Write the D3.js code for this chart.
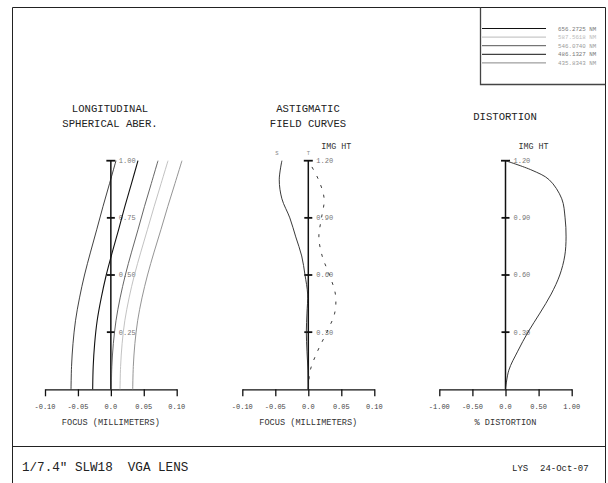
<!DOCTYPE html>
<html><head><meta charset="utf-8">
<script src="https://cdn.jsdelivr.net/npm/d3@7"></script>
<style>body{margin:0;background:#fff}svg{display:block}text{font-family:"Liberation Mono",monospace;white-space:pre}</style>
</head><body>
<svg id="c" width="608" height="483"></svg>
<script>
// ---------- data ----------
const wavelengths = ["656.2725 NM","587.5618 NM","546.0740 NM","486.1327 NM","435.8343 NM"];
const waveColors  = ["#111","#bbb","#555","#111","#888"];

// longitudinal spherical aberration: relative pupil height vs focus (mm)
const lsaHeights = [0,0.1,0.2,0.3,0.4,0.5,0.6,0.7,0.8,0.9,1.0];
const lsa656 = [-0.0605,-0.0597,-0.0575,-0.0537,-0.0476,-0.0400,-0.0309,-0.0213,-0.0119,-0.0020,0.0078];
const lsa587 = [0.0139,0.0148,0.0171,0.0212,0.0277,0.0358,0.0455,0.0557,0.0658,0.0763,0.0868];
const lsa546 = [0.0007,0.0015,0.0038,0.0078,0.0141,0.0220,0.0314,0.0414,0.0511,0.0614,0.0716];
const lsa486 = [-0.0276,-0.0268,-0.0246,-0.0208,-0.0146,-0.0070,0.0022,0.0119,0.0213,0.0313,0.0412];
const lsa435 = [0.0332,0.0341,0.0365,0.0407,0.0473,0.0557,0.0656,0.0762,0.0865,0.0973,0.1080];

// astigmatic field curves: image height vs focus (mm)
const fieldHeights = [0,0.1,0.2,0.3,0.4,0.5,0.6,0.7,0.8,0.9,1.0,1.1,1.2];
const sagittal   = [0,-0.0005,-0.002,-0.003,-0.002,-0.001,-0.005,-0.010,-0.019,-0.028,-0.040,-0.044,-0.040];
const tangential = [0,0.003,0.014,0.028,0.040,0.041,0.032,0.021,0.016,0.020,0.024,0.0155,0];

// distortion: image height vs % distortion
const distHeights = [0,0.1,0.2,0.3,0.4,0.5,0.6,0.7,0.8,0.9,1.0,1.1,1.15,1.2];
const distortion  = [0,0.05,0.185,0.34,0.52,0.69,0.82,0.895,0.915,0.90,0.85,0.66,0.40,0];

const focusTicks = [-0.10,-0.05,0,0.05,0.10];
const focusTickLabels = ["-0.10","-0.05","0.0","0.05","0.10"];
const distTicks = [-1,-0.5,0,0.5,1];
const distTickLabels = ["-1.00","-0.50","0.0","0.50","1.00"];
const lsaYTicks = [0.25,0.5,0.75,1.0];
const lsaYLabels = ["0.25","0.50","0.75","1.00"];
const fieldYTicks = [0.3,0.6,0.9,1.2];
const fieldYLabels = ["0.30","0.60","0.90","1.20"];

const titleLSA = ["LONGITUDINAL","SPHERICAL ABER."];
const titleAST = ["ASTIGMATIC","FIELD CURVES"];
const titleDIST = ["DISTORTION"];
const footerLeft = "1/7.4\" SLW18  VGA LENS";
const footerAuthor = "LYS";
const footerDate = "24-Oct-07";

// ---------- drawing ----------
const svg = d3.select("#c");
const baseY = 389.3, topY = 160.7;

// frame
svg.append("path").attr("d","M12.5,483 V7.5 H605.5 V483").attr("fill","none").attr("stroke","#222").attr("stroke-width",1);
svg.append("line").attr("x1",12).attr("x2",606).attr("y1",446.5).attr("y2",446.5).attr("stroke","#222");

// legend
const lg = svg.append("g");
lg.append("path").attr("d","M480.5,7.5 V84.5 H605.5").attr("fill","none").attr("stroke","#444").attr("stroke-width",1.3);
wavelengths.forEach((w,i)=>{
  const y = 28.5 + i*8.6;
  lg.append("line").attr("x1",482).attr("x2",546).attr("y1",y).attr("y2",y).attr("stroke",waveColors[i]).attr("stroke-width",1);
  lg.append("text").attr("x",558).attr("y",y).attr("dy","0.35em").attr("font-size",5.8)
    .attr("fill", i===1 ? "#bbb" : (i===0||i===3 ? "#777":"#999")).text(w);
});

function panel(cfg){
  const g = svg.append("g");
  const x = d3.scaleLinear().domain(cfg.xDomain).range(cfg.xRange);
  const y = d3.scaleLinear().domain([0,cfg.yMax]).range([baseY, topY]);
  // x axis
  const ax = g.append("g").attr("transform",`translate(0,${baseY})`)
    .call(d3.axisBottom(x).tickValues(cfg.xTicks).tickFormat("").tickSize(7).tickSizeOuter(0));
  ax.select(".domain").attr("stroke","#111").attr("stroke-width",1.3);
  ax.selectAll(".tick line").attr("stroke","#111").attr("stroke-width",1.3);
  g.selectAll(".xl").data(cfg.xTicks).join("text").attr("x",d=>x(d)).attr("y",406.5)
    .attr("dy","0.35em").attr("text-anchor","middle").attr("font-size",7).attr("fill","#444")
    .text((d,i)=>cfg.xLabels[i]);
  g.append("text").attr("x",(cfg.xRange[0]+cfg.xRange[1])/2).attr("y",422).attr("dy","0.35em")
    .attr("text-anchor","middle").attr("font-size",8.6).attr("fill","#333").text(cfg.xTitle);
  // vertical axis
  const x0 = x(0);
  g.append("line").attr("x1",x0).attr("x2",x0).attr("y1",baseY).attr("y2",y(cfg.yMax))
    .attr("stroke","#111").attr("stroke-width",1.5);
  g.selectAll(".yt").data(cfg.yTicks).join("line")
    .attr("x1",(d,i)=>x0-(i===cfg.yTicks.length-1?4.5:4)).attr("x2",(d,i)=>x0+(i===cfg.yTicks.length-1?4.5:4))
    .attr("y1",d=>y(d)).attr("y2",d=>y(d)).attr("stroke","#111").attr("stroke-width",1.8);
  g.selectAll(".yl").data(cfg.yTicks).join("text").attr("x",x0+8).attr("y",d=>y(d)).attr("dy","0.35em")
    .attr("font-size",7).attr("fill","#777").text((d,i)=>cfg.yLabels[i]);
  if(cfg.imgHt){
    g.append("text").attr("x",x0+28).attr("y",146).attr("dy","0.35em").attr("text-anchor","middle")
      .attr("font-size",8.4).attr("fill","#333").text("IMG HT");
  }
  // title
  cfg.title.forEach((t,i)=>{
    g.append("text").attr("x",cfg.titleX).attr("y",cfg.titleY[i]).attr("dy","0.35em").attr("text-anchor","middle")
      .attr("font-size",10.6).attr("fill","#222").text(t);
  });
  // curves
  cfg.series.forEach(s=>{
    const line = d3.line().x((d,i)=>x(d)).y((d,i)=>y(s.h[i])).curve(d3.curveCatmullRom);
    g.append("path").attr("d",line(s.v)).attr("fill","none").attr("stroke",s.color)
      .attr("stroke-width",s.w||1).attr("stroke-dasharray",s.dash||null);
  });
  return {x,y,g};
}

panel({xDomain:[-0.1,0.1], xRange:[45,176.7], yMax:1.0, xTicks:focusTicks, xLabels:focusTickLabels,
  xTitle:"FOCUS (MILLIMETERS)", yTicks:lsaYTicks, yLabels:lsaYLabels, title:titleLSA, titleX:110, titleY:[108,123],
  series:[
    {v:lsa656,h:lsaHeights,color:waveColors[0],w:0.8},
    {v:lsa587,h:lsaHeights,color:waveColors[1],w:0.9},
    {v:lsa546,h:lsaHeights,color:waveColors[2],w:0.9},
    {v:lsa486,h:lsaHeights,color:waveColors[3],w:1.1},
    {v:lsa435,h:lsaHeights,color:waveColors[4],w:0.9}
  ]});

const p2 = panel({xDomain:[-0.1,0.1], xRange:[242.3,374.3], yMax:1.2, xTicks:focusTicks, xLabels:focusTickLabels,
  xTitle:"FOCUS (MILLIMETERS)", yTicks:fieldYTicks, yLabels:fieldYLabels, title:titleAST, titleX:308, titleY:[108,123], imgHt:true,
  series:[
    {v:sagittal,h:fieldHeights,color:"#222",w:0.9},
    {v:tangential,h:fieldHeights,color:"#222",w:0.9,dash:"3,7"}
  ]});
p2.g.append("text").attr("x",p2.x(sagittal[sagittal.length-1])-5).attr("y",155).attr("font-size",5.5).attr("fill","#888").attr("text-anchor","middle").text("S");
p2.g.append("text").attr("x",p2.x(tangential[tangential.length-1])).attr("y",155).attr("font-size",5.5).attr("fill","#888").attr("text-anchor","middle").text("T");

panel({xDomain:[-1,1], xRange:[439.3,571.7], yMax:1.2, xTicks:distTicks, xLabels:distTickLabels,
  xTitle:"% DISTORTION", yTicks:fieldYTicks, yLabels:fieldYLabels, title:titleDIST, titleX:505, titleY:[116], imgHt:true,
  series:[{v:distortion,h:distHeights,color:"#222",w:0.9}]});

// footer
svg.append("text").attr("x",22).attr("y",467).attr("dy","0.35em").attr("font-size",12.6).attr("fill","#222").text(footerLeft);
svg.append("text").attr("x",512).attr("y",468).attr("dy","0.35em").attr("font-size",9).attr("fill","#222").text(footerAuthor);
svg.append("text").attr("x",540).attr("y",468).attr("dy","0.35em").attr("font-size",9).attr("fill","#222").text(footerDate);
</script>
</body></html>
